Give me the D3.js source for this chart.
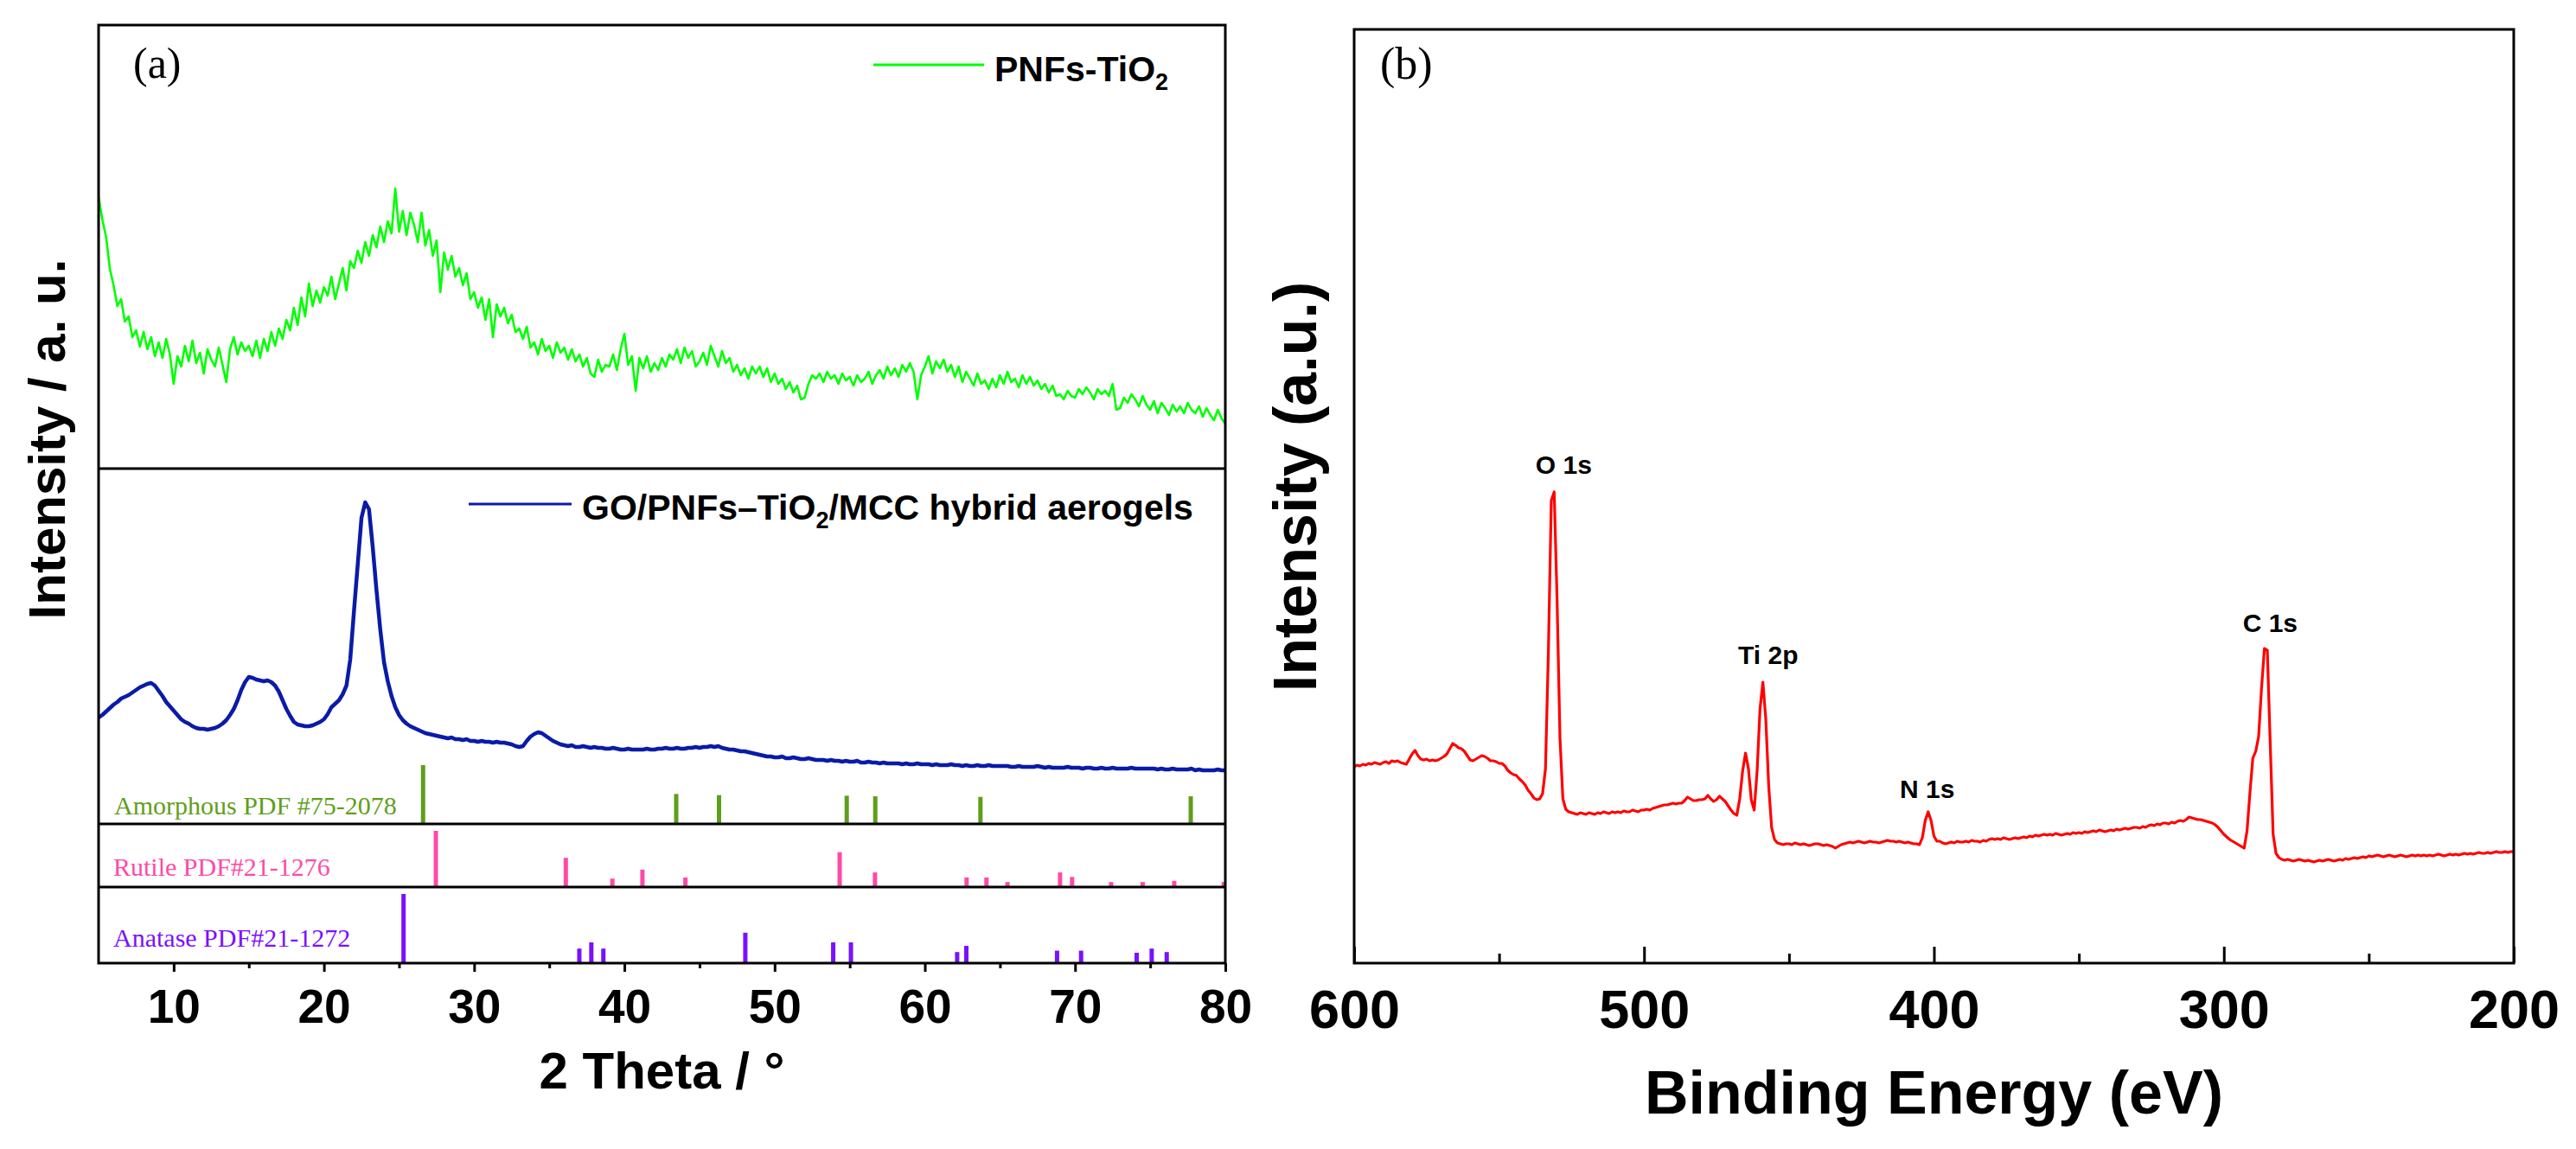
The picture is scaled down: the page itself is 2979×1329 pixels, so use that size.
<!DOCTYPE html>
<html lang="en">
<head>
  <meta charset="UTF-8" />
  <title>XRD patterns and XPS survey</title>
  <script src="https://d3js.org/d3.v7.min.js"></script>
  <style>
    body { margin:0; padding:0; background:#fff; }
    svg { display:block; }
  </style>
</head>
<body>
<svg id="chart" width="2979" height="1329"></svg>
<script>
// ---- data ----
// XRD, PNFs-TiO2, 2theta = 5..80 step 0.25
const pnfsTheta = d3.range(0, 301).map(i => 5 + i * 0.25);
const pnfsIntensity = [
  314,288,268,231, 212,188,196,170, 176,152,160,141, 158,138,152,130, 146,128,150,132,
  98,130,118,142, 124,148,122,134, 110,138,126,118, 140,120,100,138, 152,132,146,136,
  142,130,148,128, 150,136,158,142, 162,150,172,160, 186,166,198,176, 214,188,206,192,
  210,200,222,196, 214,232,206,240, 232,252,238,262, 246,270,256,280, 262,286,272,324,
  274,298,270,296, 282,262,296,258, 276,246,264,204, 250,230,246,222, 232,212,226,196,
  204,186,198,172, 196,152,190,176, 186,168,178,158, 162,150,164,140, 146,132,150,136,
  142,128,146,134, 140,126,138,124, 132,118,128,110, 106,126,112,120, 118,132,114,138,
  156,120,130,90,  128,116,130,112, 122,114,128,118, 132,126,138,122, 140,128,136,118,
  124,134,120,142, 130,118,136,122, 128,112,120,108, 116,104,118,110, 118,106,116,100,
  110,98,104,92,   100,88,96,80,    82,98,108,104,   110,100,112,104, 108,98,110,102,
  106,96,108,100,  104,112,98,108,  114,104,118,108, 116,106,120,112, 122,112,80,108,
  118,130,110,124, 116,126,112,120, 106,118,100,112, 104,96,110,98,   102,92,104,94,
  108,98,112,100,  104,94,108,98,   106,96,102,92,   98,88,96,84,     86,80,90,84,
  82,92,86,94,     88,80,92,86,     90,84,98,68,     70,82,76,86,     80,72,84,74,
  68,78,64,76,     70,62,74,66,     72,64,76,68,     64,72,60,70,     62,56,68,58,
  52
];

// XRD, GO/PNFs-TiO2/MCC hybrid aerogels, 2theta = 5..80 step 0.25
const aeroTheta = d3.range(0, 301).map(i => 5 + i * 0.25);
const aeroIntensity = [
  123,126,130,134, 138,141,145,147, 149,152,155,158, 160,162,163,160, 154,148,141,136,
  131,126,121,118, 116,113,111,110, 110,109,110,111, 113,116,120,126, 133,143,155,164,
  170,169,167,166, 165,166,164,160, 153,143,133,125, 118,115,114,113, 113,114,116,118,
  121,127,135,139, 143,150,160,190, 246,300,354,372, 364,320,270,225, 187,165,148,135,
  126,120,116,113, 111,109,107,105, 104,103,102,101, 100,99,100,98,   98,97,98,96,
  96,95,96,95,     95,94,95,94,     94,93,92,90,     89,90,96,101,    104,106,105,102,
  99,96,94,92,     91,90,91,89,     89,90,89,88,     89,88,88,87,     87,88,87,86,
  86,87,86,86,     86,86,87,86,     86,87,87,88,     87,87,88,87,     87,88,88,89,
  88,89,89,90,     89,90,88,87,     86,86,85,84,     84,83,82,81,     80,79,78,78,
  77,77,78,76,     76,77,76,75,     75,76,75,74,     74,74,73,74,     73,73,72,73,
  72,72,73,71,     71,72,71,71,     70,71,70,70,     70,70,69,70,     69,69,70,69,
  69,69,68,69,     68,68,68,69,     68,68,67,68,     67,67,68,67,     67,68,67,67,
  67,67,67,66,     66,67,66,66,     66,66,67,66,     65,66,65,65,     65,65,66,65,
  65,65,64,65,     65,64,64,65,     64,64,65,64,     64,64,64,65,     64,64,64,64,
  64,64,63,64,     63,63,64,63,     63,63,63,64,     62,63,62,62,     62,62,63,62,
  62
];

// reference patterns: 2theta and relative intensity (%)
const amorphousPos = [26.6, 43.45, 46.3, 54.8, 56.7, 63.7, 77.7];
const amorphousRel = [100, 51, 49, 48, 47, 46, 47];
const rutilePos = [27.45, 36.1, 39.2, 41.2, 44.06, 54.33, 56.68, 62.78, 64.1, 65.5, 69.0, 69.8, 72.4, 74.5, 76.6, 79.9];
const rutileRel = [100, 52, 15, 31, 17, 62, 26, 17, 17, 9, 26, 18, 9, 9, 11, 9];
const anatasePos = [25.3, 37.0, 37.8, 38.6, 48.05, 53.9, 55.08, 62.15, 62.76, 68.8, 70.4, 74.1, 75.1, 76.1];
const anataseRel = [100, 21, 30, 21, 44, 30, 30, 16, 25, 18, 18, 15, 21, 16];

// XPS survey, binding energy 600..200 eV step 1
const xpsEnergy = d3.range(600, 199, -1);
const xpsIntensity = [
  227,229,228,230,229,231,230,232,231,230,   // 600-591
  232,233,231,234,233,234,232,231,230,236,   // 590-581
  242,246,240,236,235,236,234,235,234,235,   // 580-571
  237,239,242,248,254,252,249,248,245,240,   // 570-561
  235,234,236,238,240,239,237,234,234,233,   // 560-551
  231,231,228,223,220,218,217,213,210,206,   // 550-541
  200,196,191,189,190,196,225,360,535,545,   // 540-531
  420,260,190,178,175,174,173,172,174,173,   // 530-521
  172,174,173,172,174,173,175,174,173,175,   // 520-511
  174,175,174,176,175,175,177,176,175,177,   // 510-501
  177,178,177,179,180,181,182,183,183,184,   // 500-491
  185,184,185,185,188,192,190,188,188,189,   // 490-481
  189,190,194,190,187,189,193,190,187,182,   // 480-471
  177,173,171,190,222,243,225,189,177,222,   // 470-461
  294,325,282,205,157,143,139,138,137,138,   // 460-451
  138,137,139,138,137,138,137,136,137,138,   // 450-441
  138,137,136,137,136,135,133,135,137,138,   // 440-431
  139,140,139,140,141,140,139,140,141,140,   // 430-421
  140,139,140,141,142,141,141,140,141,140,   // 420-411
  139,140,139,138,138,137,145,165,175,165,   // 410-401
  147,141,141,139,138,139,140,139,141,140,   // 400-391
  140,141,140,142,141,141,140,142,141,143,   // 390-381
  144,143,144,143,145,144,143,144,145,144,   // 380-371
  145,146,145,147,146,148,147,148,149,148,   // 370-361
  149,148,150,149,148,149,150,149,151,150,   // 360-351
  151,150,152,151,152,153,152,154,153,152,   // 350-341
  153,154,153,155,154,155,156,155,156,157,   // 340-331
  157,156,158,157,159,160,159,161,160,162,   // 330-321
  162,161,163,162,164,165,164,166,169,168,   // 320-311
  167,166,166,165,164,163,162,160,157,153,   // 310-301
  149,146,143,141,139,137,135,133,153,197,   // 300-291
  237,245,262,318,364,362,254,149,127,122,   // 290-281
  120,119,120,119,118,119,120,119,118,119,   // 280-271
  118,117,118,119,118,119,120,119,118,119,   // 270-261
  120,119,121,120,121,122,121,122,123,122,   // 260-251
  124,123,124,125,124,123,124,125,124,123,   // 250-241
  124,125,124,123,124,125,124,125,124,125,   // 240-231
  124,125,124,125,126,125,124,125,126,125,   // 230-221
  126,125,126,127,126,127,126,127,128,127,   // 220-211
  127,128,127,128,129,128,128,129,128,129,   // 210-201
  129                                        // 200
];

const peakNames = ["O 1s", "Ti 2p", "N 1s", "C 1s"];
const peakLabelEnergy = [527.7, 457.2, 402.3, 284.0];
const peakLabelLevel = [566, 346, 191, 383];

const xrdTicks = [10, 20, 30, 40, 50, 60, 70, 80];
const xrdMinor = [15, 25, 35, 45, 55, 65, 75];
const xpsTicks = [600, 500, 400, 300, 200];
const xpsMinor = [550, 450, 350, 250];

// ---- layout ----
const SANS = '"Liberation Sans", Arial, Helvetica, sans-serif';
const SERIF = '"Liberation Serif", "Times New Roman", Times, serif';
const A = { left:114, right:1417, top:29, s1:542, s2:953, s3:1026, bottom:1114 };
const B = { left:1566, right:2907, top:34, bottom:1114 };

const svg = d3.select("#chart");
svg.append("rect").attr("width", 2979).attr("height", 1329).attr("fill", "#fff");

const defs = svg.append("defs");
defs.append("clipPath").attr("id", "clipA")
  .append("rect").attr("x", A.left).attr("y", A.top).attr("width", A.right - A.left).attr("height", A.bottom - A.top);
defs.append("clipPath").attr("id", "clipB")
  .append("rect").attr("x", B.left).attr("y", B.top).attr("width", B.right - B.left).attr("height", B.bottom - B.top);

// ---- panel (a) ----
const x = d3.scaleLinear().domain([5, 80]).range([A.left, A.right]);
const yTop = d3.scaleLinear().domain([0, 513]).range([A.s1, A.top]);
const yMid = d3.scaleLinear().domain([0, 411]).range([A.s2, A.s1]);
const yAmo = d3.scaleLinear().domain([0, 100]).range([A.s2, A.s2 - 68]);
const yRut = d3.scaleLinear().domain([0, 100]).range([A.s3, A.s3 - 65]);
const yAna = d3.scaleLinear().domain([0, 100]).range([A.bottom, A.bottom - 80]);

const gA = svg.append("g").attr("clip-path", "url(#clipA)");

gA.append("path")
  .attr("d", d3.line().x((d, i) => x(pnfsTheta[i])).y(d => yTop(d))(pnfsIntensity))
  .attr("fill", "none").attr("stroke", "#00ff00").attr("stroke-width", 2.6).attr("stroke-linejoin", "round");

gA.append("path")
  .attr("d", d3.line().x((d, i) => x(aeroTheta[i])).y(d => yMid(d))(aeroIntensity))
  .attr("fill", "none").attr("stroke", "#0a1ba8").attr("stroke-width", 4.5).attr("stroke-linejoin", "round");

function sticks(pos, rel, yScale, color) {
  gA.append("g").selectAll("line").data(pos).join("line")
    .attr("x1", d => x(d)).attr("x2", d => x(d))
    .attr("y1", yScale(0)).attr("y2", (d, i) => yScale(rel[i]))
    .attr("stroke", color).attr("stroke-width", 5);
}
sticks(amorphousPos, amorphousRel, yAmo, "#5f9e1c");
sticks(rutilePos, rutileRel, yRut, "#ff4aa5");
sticks(anatasePos, anataseRel, yAna, "#7a10ff");

// frame and strip dividers
svg.append("rect").attr("x", A.left).attr("y", A.top)
  .attr("width", A.right - A.left).attr("height", A.bottom - A.top)
  .attr("fill", "none").attr("stroke", "#000").attr("stroke-width", 3);
[A.s1, A.s2, A.s3].forEach(yy => {
  svg.append("line").attr("x1", A.left).attr("x2", A.right).attr("y1", yy).attr("y2", yy)
    .attr("stroke", "#000").attr("stroke-width", 3);
});

// x axis (a)
const axA = svg.append("g").attr("transform", `translate(0,${A.bottom})`)
  .call(d3.axisBottom(x).tickValues(xrdTicks).tickSizeInner(10).tickSizeOuter(0).tickPadding(20));
axA.attr("font-family", SANS).attr("font-size", 55).attr("font-weight", "bold");
axA.select(".domain").remove();
axA.selectAll("line").attr("stroke", "#000").attr("stroke-width", 3);
axA.selectAll("text").attr("fill", "#000");
const axAm = svg.append("g").attr("transform", `translate(0,${A.bottom})`)
  .call(d3.axisBottom(x).tickValues(xrdMinor).tickSizeInner(6).tickSizeOuter(0).tickFormat(""));
axAm.select(".domain").remove();
axAm.selectAll("line").attr("stroke", "#000").attr("stroke-width", 3);

// labels (a)
svg.append("text").attr("x", 154).attr("y", 90)
  .attr("font-family", SERIF).attr("font-size", 50).text("(a)");

svg.append("text").attr("transform", "translate(75,508) rotate(-90)")
  .attr("text-anchor", "middle").attr("font-family", SANS).attr("font-weight", "bold")
  .attr("font-size", 60).text("Intensity / a. u.");

svg.append("text").attr("x", (A.left + A.right) / 2).attr("y", 1259)
  .attr("text-anchor", "middle").attr("font-family", SANS).attr("font-weight", "bold")
  .attr("font-size", 60).text("2 Theta / °");

// legends
svg.append("line").attr("x1", 1010).attr("x2", 1138).attr("y1", 75).attr("y2", 75)
  .attr("stroke", "#00ff00").attr("stroke-width", 3);
const lg1 = svg.append("text").attr("x", 1150).attr("y", 94)
  .attr("font-family", SANS).attr("font-weight", "bold").attr("font-size", 41);
lg1.append("tspan").text("PNFs-TiO");
lg1.append("tspan").attr("dy", 10).attr("font-size", 27).text("2");

svg.append("line").attr("x1", 542).attr("x2", 661).attr("y1", 583).attr("y2", 583)
  .attr("stroke", "#0a1ba8").attr("stroke-width", 3);
const lg2 = svg.append("text").attr("x", 673).attr("y", 601)
  .attr("font-family", SANS).attr("font-weight", "bold").attr("font-size", 41);
lg2.append("tspan").text("GO/PNFs–TiO");
lg2.append("tspan").attr("dy", 10).attr("font-size", 27).text("2");
lg2.append("tspan").attr("dy", -10).text("/MCC hybrid aerogels");

svg.append("text").attr("x", 132).attr("y", 942).attr("font-family", SERIF).attr("font-size", 30)
  .attr("fill", "#5f9e1c").text("Amorphous PDF #75-2078");
svg.append("text").attr("x", 131).attr("y", 1013).attr("font-family", SERIF).attr("font-size", 30)
  .attr("fill", "#ff4aa5").text("Rutile PDF#21-1276");
svg.append("text").attr("x", 131).attr("y", 1095).attr("font-family", SERIF).attr("font-size", 30)
  .attr("fill", "#7a10ff").text("Anatase PDF#21-1272");

// ---- panel (b) ----
const xb = d3.scaleLinear().domain([600, 200]).range([B.left, B.right]);
const yb = d3.scaleLinear().domain([0, 1080]).range([B.bottom, B.top]);

svg.append("g").attr("clip-path", "url(#clipB)").append("path")
  .attr("d", d3.line().x((d, i) => xb(xpsEnergy[i])).y(d => yb(d))(xpsIntensity))
  .attr("fill", "none").attr("stroke", "#ff0000").attr("stroke-width", 3.2).attr("stroke-linejoin", "round");

svg.append("rect").attr("x", B.left).attr("y", B.top)
  .attr("width", B.right - B.left).attr("height", B.bottom - B.top)
  .attr("fill", "none").attr("stroke", "#000").attr("stroke-width", 3);

const axB = svg.append("g").attr("transform", `translate(0,${B.bottom})`)
  .call(d3.axisBottom(xb).tickValues(xpsTicks).tickSizeInner(-19).tickSizeOuter(0).tickPadding(30));
axB.attr("font-family", SANS).attr("font-size", 63).attr("font-weight", "bold");
axB.select(".domain").remove();
axB.selectAll("line").attr("stroke", "#000").attr("stroke-width", 3);
axB.selectAll("text").attr("fill", "#000");
const axBm = svg.append("g").attr("transform", `translate(0,${B.bottom})`)
  .call(d3.axisBottom(xb).tickValues(xpsMinor).tickSizeInner(-11).tickSizeOuter(0).tickFormat(""));
axBm.select(".domain").remove();
axBm.selectAll("line").attr("stroke", "#000").attr("stroke-width", 3);

svg.append("g").selectAll("text").data(peakNames).join("text")
  .attr("x", (d, i) => xb(peakLabelEnergy[i]))
  .attr("y", (d, i) => yb(peakLabelLevel[i]))
  .attr("text-anchor", "middle").attr("font-family", SANS).attr("font-weight", "bold")
  .attr("font-size", 30).text(d => d);

svg.append("text").attr("x", 1596).attr("y", 91)
  .attr("font-family", SERIF).attr("font-size", 52).text("(b)");

svg.append("text").attr("transform", "translate(1522,563) rotate(-90)")
  .attr("text-anchor", "middle").attr("font-family", SANS).attr("font-weight", "bold")
  .attr("font-size", 70).text("Intensity (a.u.)");

svg.append("text").attr("x", (B.left + B.right) / 2).attr("y", 1288)
  .attr("text-anchor", "middle").attr("font-family", SANS).attr("font-weight", "bold")
  .attr("font-size", 70).text("Binding Energy (eV)");
</script>
</body>
</html>
